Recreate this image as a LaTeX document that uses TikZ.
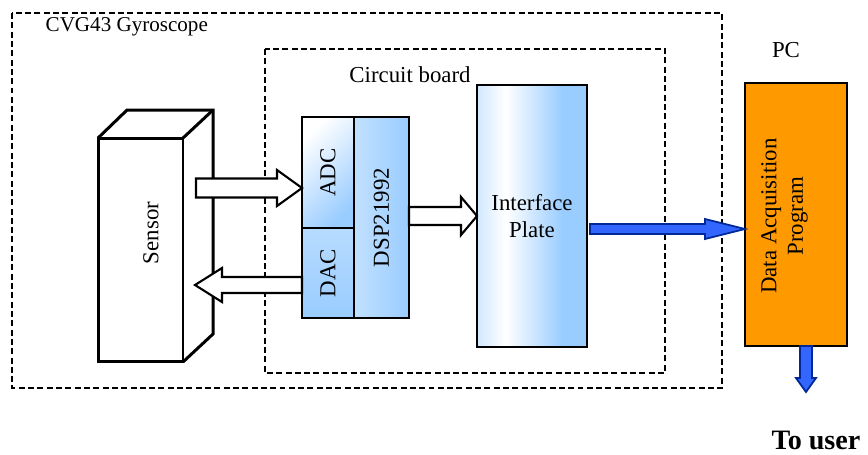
\documentclass[tikz,border=0pt]{standalone}
\usepackage{fontspec}
\setmainfont{Liberation Serif}
\usetikzlibrary{calc}
\definecolor{boardblue}{RGB}{153,204,255}
\definecolor{pcorange}{RGB}{255,153,0}
\definecolor{linkblue}{RGB}{51,102,255}
\definecolor{linkedge}{RGB}{0,40,150}
\pgfdeclarehorizontalshading{plateshade}{100bp}{color(0bp)=(boardblue!45); color(25bp)=(boardblue!45); color(38bp)=(white); color(64bp)=(boardblue); color(75bp)=(boardblue); color(100bp)=(boardblue)}

\begin{document}
\begin{tikzpicture}[x=0.02cm, y=-0.02cm, line width=0.8pt,
  lbl/.style={font=\fontsize{13}{15}\selectfont, inner sep=0pt},
  box/.style={draw, line width=1.1pt, inner sep=0pt, outer sep=0pt, font=\fontsize{13}{15}\selectfont},
  frame/.style={draw, line width=0.9pt, dash pattern=on 3.4pt off 1.9pt},
  blockarrow/.style n args={3}{line join=miter, to path={
    ($(\tikztostart)!#1!90:(\tikztotarget)$)
    -- ($(\tikztotarget)!#3!(\tikztostart)+(\tikztostart)!#1!90:(\tikztotarget)-(\tikztostart)$)
    -- ($(\tikztotarget)!#3!(\tikztostart)+(\tikztostart)!#2!90:(\tikztotarget)-(\tikztostart)$)
    -- (\tikztotarget)
    -- ($(\tikztotarget)!#3!(\tikztostart)+(\tikztostart)!#2!-90:(\tikztotarget)-(\tikztostart)$)
    -- ($(\tikztotarget)!#3!(\tikztostart)+(\tikztostart)!#1!-90:(\tikztotarget)-(\tikztostart)$)
    -- ($(\tikztostart)!#1!-90:(\tikztotarget)$) -- cycle}},
  hollow/.style={fill=white, draw, line width=1.2pt},
  link/.style={fill=linkblue, draw=linkedge, line width=1pt}]
  \useasboundingbox (0,0) rectangle (868,454);
  % marcos punteados
  \draw[frame] (12,13) rectangle (722,388);
  \draw[frame] (265,49) rectangle (665,373);
  \node[anchor=west, font=\fontsize{12}{14}\selectfont, inner sep=0pt] (gyrotitle) at (45,27) {CVG43 Gyroscope};
  \node[lbl] (boardtitle) at (410,75) {Circuit board};
  % sensor (caja 3D)
  \node[box, line width=1.7pt, fill=white, minimum width=1.7cm, minimum height=4.48cm] (sensor) at (140.5,250) {};
  \draw[line width=1.7pt, line join=miter] (sensor.north west) -- ++(29,-28) -- ++(86,0) -- ++(0,224) -- (sensor.south east);
  \draw[line width=1.7pt] (sensor.north east) -- ++(30,-28);
  \node[lbl, rotate=90] (sensortext) at (151,233) {Sensor};
  % placa
  \node[box, top color=white, bottom color=boardblue, shading angle=45, minimum width=1.04cm, minimum height=2.22cm] (adc) at (328,172.5) {\rotatebox{90}{ADC}};
  \node[box, top color=boardblue!70, bottom color=boardblue, minimum width=1.04cm, minimum height=1.8cm] (dac) at (328,273) {\rotatebox{90}{DAC}};
  \node[box, left color=boardblue!60, right color=boardblue, minimum width=1.1cm, minimum height=4.02cm] (dsp) at (381.5,217.5) {\rotatebox{90}{DSP21992}};
  \node[box, shading=plateshade, minimum width=2.2cm, minimum height=5.24cm, align=center] (plate) at (532,216) {Interface\\Plate};
  % PC
  \node[lbl] (pctitle) at (786,50) {PC};
  \node[box, fill=pcorange, line width=1pt, minimum width=2.04cm, minimum height=5.26cm] (pc) at (796,214.5) {};
  \node[lbl, rotate=90, align=center] (pctext) at (784.5,216) {Data Acquisition\\Program};
  \node[font=\bfseries\fontsize{16}{18}\selectfont, inner sep=0pt] (user) at (816,440) {To user};
  % conectores
  \coordinate (sensorout) at (196,188);
  \coordinate (adcin) at (sensorout -| adc.west);
  \coordinate (sensorin) at (195,285);
  \coordinate (dacout) at (sensorin -| dac.west);
  \coordinate (dspout) at (dsp.east |- plate.west);
  \coordinate (plateout) at (590,229);
  \coordinate (pcin) at (plateout -| pc.west);
  \coordinate (pcout) at (806,346);
  \coordinate (userin) at (806,392);
  \draw[hollow, blockarrow={0.19cm}{0.36cm}{0.5cm}] (sensorout) to (adcin);
  \draw[hollow, blockarrow={0.16cm}{0.34cm}{0.54cm}] (dacout) to (sensorin);
  \draw[hollow, blockarrow={0.18cm}{0.38cm}{0.32cm}] (dspout) to (plate.west);
  \draw[link, blockarrow={0.1cm}{0.2cm}{0.8cm}] (plateout) to (pcin);
  \draw[link, blockarrow={0.12cm}{0.2cm}{0.28cm}] (pcout) to (userin);
\end{tikzpicture}
\end{document}
